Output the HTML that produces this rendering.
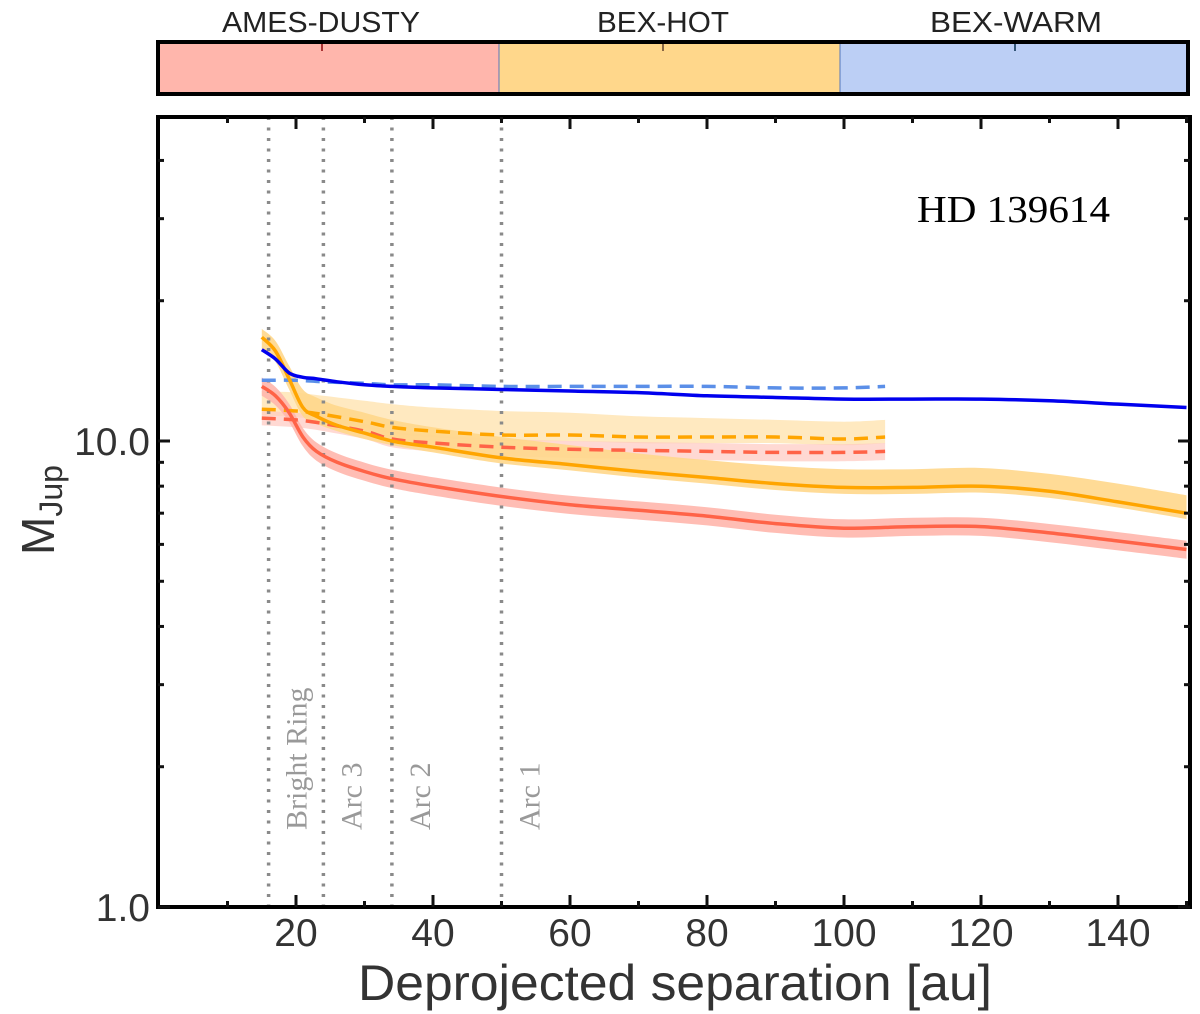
<!DOCTYPE html>
<html><head><meta charset="utf-8"><style>
body{margin:0;background:#fff;}
svg{display:block;}
</style></head><body>
<svg id="chart" width="1200" height="1014" xmlns="http://www.w3.org/2000/svg">
<g id="cbar">
  <rect x="158" y="42" width="341" height="52" fill="#ffb6ac"/>
  <rect x="499" y="42" width="341" height="52" fill="#ffd78b"/>
  <rect x="840" y="42" width="348" height="52" fill="#bccff5"/>
  <line x1="499" y1="42" x2="499" y2="94" stroke="#5577bb" stroke-width="1"/>
  <line x1="840" y1="42" x2="840" y2="94" stroke="#5577bb" stroke-width="1"/>
  <line x1="322" y1="44" x2="322" y2="51" stroke="#a33" stroke-width="2"/>
  <line x1="663" y1="44" x2="663" y2="51" stroke="#864" stroke-width="2"/>
  <line x1="1015" y1="44" x2="1015" y2="51" stroke="#357" stroke-width="2"/>
  <rect x="158" y="42" width="1030" height="52" fill="none" stroke="#000" stroke-width="4"/>
  <text x="222" y="32" textLength="198" lengthAdjust="spacingAndGlyphs" font-family="Liberation Sans, sans-serif" font-size="29" fill="#222">AMES-DUSTY</text>
  <text x="597" y="32" textLength="132" lengthAdjust="spacingAndGlyphs" font-family="Liberation Sans, sans-serif" font-size="29" fill="#222">BEX-HOT</text>
  <text x="930" y="32" textLength="172" lengthAdjust="spacingAndGlyphs" font-family="Liberation Sans, sans-serif" font-size="29" fill="#222">BEX-WARM</text>
</g>
<g id="plot"></g>
</svg>
<script>
const xTicks=[20,40,60,80,100,120,140];
const yTickLabels=["1.0","10.0"];
const yTickVals=[1,10];
const ringSeps=[16,24,34,50];
const ringNames=["Bright Ring","Arc 3","Arc 2","Arc 1"];
const sepSolid=[15,17,19,21,23,26,30,34,40,50,60,70,80,90,100,110,120,130,140,150];
const blueSolid=[15.7,15.0,14.0,13.7,13.6,13.4,13.2,13.1,13.0,12.9,12.8,12.7,12.5,12.4,12.3,12.3,12.3,12.2,12.0,11.8];
const orangeSolid=[16.7,15.6,13.6,11.8,11.3,10.8,10.4,10.0,9.7,9.2,8.9,8.6,8.35,8.1,7.95,7.95,8.0,7.8,7.4,7.0];
const orangeUp=[17.4,16.4,14.5,12.9,12.4,11.9,11.5,11.1,10.7,10.2,9.8,9.4,9.1,8.85,8.7,8.7,8.75,8.5,8.1,7.65];
const orangeLo=[15.8,14.8,12.9,11.3,10.9,10.5,10.1,9.8,9.45,8.95,8.65,8.35,8.1,7.85,7.7,7.7,7.75,7.55,7.2,6.8];
const redSolid=[13.1,12.5,11.5,10.2,9.5,9.0,8.6,8.3,8.0,7.6,7.3,7.1,6.9,6.65,6.5,6.55,6.55,6.35,6.1,5.85];
const sepDash=[15,20,24,30,34,40,50,60,70,80,90,100,106];
const blueDash=[13.5,13.5,13.4,13.3,13.2,13.2,13.1,13.1,13.1,13.1,13.0,13.0,13.1];
const orangeDash=[11.7,11.6,11.4,11.0,10.7,10.5,10.3,10.3,10.2,10.2,10.2,10.1,10.2];
const orangeDashUp=[12.8,12.7,12.5,12.2,12.0,11.8,11.6,11.5,11.3,11.2,11.1,11.0,11.1];
const redDash=[11.2,11.1,10.9,10.5,10.1,9.9,9.7,9.6,9.55,9.5,9.45,9.45,9.5];
const redDashUp=[11.6,11.5,11.3,10.9,10.5,10.3,10.1,10.0,9.95,9.9,9.85,9.85,9.9];
const redDashLo=[10.8,10.7,10.5,10.1,9.7,9.5,9.3,9.2,9.15,9.1,9.05,9.05,9.1];

const L=158,R=1190,T=117,B=907;
const xs=v=>159+v*6.85;
const ys=v=>B-Math.log10(v)*466;
const NS="http://www.w3.org/2000/svg";
const g=document.getElementById('plot');
function mk(t,a){const e=document.createElementNS(NS,t);for(const k in a)e.setAttribute(k,a[k]);g.appendChild(e);return e;}
function smooth(pts,start){
 let d=start?'M'+pts[0][0].toFixed(1)+','+pts[0][1].toFixed(1):'L'+pts[0][0].toFixed(1)+','+pts[0][1].toFixed(1);
 for(let i=0;i<pts.length-1;i++){
  const p0=pts[Math.max(0,i-1)],p1=pts[i],p2=pts[i+1],p3=pts[Math.min(pts.length-1,i+2)];
  const c1=[p1[0]+(p2[0]-p0[0])/6,p1[1]+(p2[1]-p0[1])/6];
  const c2=[p2[0]-(p3[0]-p1[0])/6,p2[1]-(p3[1]-p1[1])/6];
  d+=` C${c1[0].toFixed(1)},${c1[1].toFixed(1)} ${c2[0].toFixed(1)},${c2[1].toFixed(1)} ${p2[0].toFixed(1)},${p2[1].toFixed(1)}`;
 }
 return d;
}
function linePath(xv,yv){return smooth(xv.map((x,i)=>[xs(x),ys(yv[i])]),true);}
function bandPath(xv,up,lo){
 const a=xv.map((x,i)=>[xs(x),ys(up[i])]);
 const b=xv.map((x,i)=>[xs(x),ys(lo[i])]).reverse();
 return smooth(a,true)+' '+smooth(b,false)+' Z';
}

let e;
e=mk('path',{d:bandPath(sepDash,orangeDashUp,orangeDash.map(v=>v*0.97)),fill:'#ffe3b0',opacity:0.8});


e=mk('path',{d:bandPath(sepDash,redDashUp,redDashLo),fill:'#ffc9c0',opacity:0.7});


e=mk('path',{d:bandPath(sepSolid,orangeUp,orangeLo),fill:'#ffd78b',opacity:0.9});


e=mk('path',{d:bandPath(sepSolid,redSolid.map(v=>v*1.045),redSolid.map(v=>v*0.955)),fill:'#ffb6ac',opacity:0.9});



ringSeps.forEach((s,i)=>{
 const l=mk('line',{x1:xs(s),y1:T,x2:xs(s),y2:B,stroke:'#8a8a8a','stroke-width':3.5,'stroke-dasharray':'3,7.5'});
 
 
 const tx=xs(s)+38, ty=830;
 const t=mk('text',{x:tx,y:ty,transform:`rotate(-90 ${tx} ${ty})`,'font-family':'Liberation Serif, serif','font-size':30,fill:'#999'});
 t.textContent=ringNames[i];
 
 
});

e=mk('path',{d:linePath(sepDash,blueDash),fill:'none',stroke:'#5b8fe8','stroke-width':3.5,'stroke-dasharray':'14,8'});


e=mk('path',{d:linePath(sepDash,orangeDash),fill:'none',stroke:'#ffa500','stroke-width':3.5,'stroke-dasharray':'14,8'});


e=mk('path',{d:linePath(sepDash,redDash),fill:'none',stroke:'#ff6347','stroke-width':3.5,'stroke-dasharray':'14,8'});


e=mk('path',{d:linePath(sepSolid,redSolid),fill:'none',stroke:'#ff6347','stroke-width':3.5});


e=mk('path',{d:linePath(sepSolid,orangeSolid),fill:'none',stroke:'#ffa500','stroke-width':3.5});


e=mk('path',{d:linePath(sepSolid,blueSolid),fill:'none',stroke:'#0000ee','stroke-width':3.5});



e=mk('rect',{x:L,y:T,width:R-L,height:B-T,fill:'none',stroke:'#000','stroke-width':4});



for(let v=10;v<=150;v+=10){
 const big=v%20===0, len=big?12:6;
 mk('line',{x1:xs(v),y1:B,x2:xs(v),y2:B-len,stroke:'#111','stroke-width':3});
 mk('line',{x1:xs(v),y1:T,x2:xs(v),y2:T+len,stroke:'#111','stroke-width':3});
}
xTicks.forEach(v=>{
 const t=mk('text',{x:xs(v),y:946,'font-family':'Liberation Sans, sans-serif','font-size':39,fill:'#333','text-anchor':'middle'});
 t.textContent=v;
 
 
});
[1,10].forEach(dec=>{for(let m=1;m<10;m++){const v=dec*m;const y=ys(v);if(y<T)continue;
 const len=m===1?12:6;
 mk('line',{x1:L,y1:y,x2:L+len,y2:y,stroke:'#111','stroke-width':3});
 mk('line',{x1:R,y1:y,x2:R-len,y2:y,stroke:'#111','stroke-width':3});}});
yTickVals.forEach((v,i)=>{
 const t=mk('text',{x:150,y:ys(v)+14,'font-family':'Liberation Sans, sans-serif','font-size':39,fill:'#333','text-anchor':'end'});
 t.textContent=yTickLabels[i];
 
 
});
e=mk('text',{x:358,y:1000,textLength:634,lengthAdjust:'spacingAndGlyphs','font-family':'Liberation Sans, sans-serif','font-size':50,fill:'#333'});
e.textContent='Deprojected separation [au]';


e=mk('text',{x:54,y:510,transform:'rotate(-90 54 510)','font-family':'Liberation Sans, sans-serif','font-size':46,fill:'#333','text-anchor':'middle'});
e.innerHTML='M<tspan font-size="32" dy="8">Jup</tspan>';


e=mk('text',{x:917,y:222,textLength:193,lengthAdjust:'spacingAndGlyphs','font-family':'Liberation Serif, serif','font-size':38,fill:'#000'});
e.textContent='HD 139614';


</script>
</body></html>
